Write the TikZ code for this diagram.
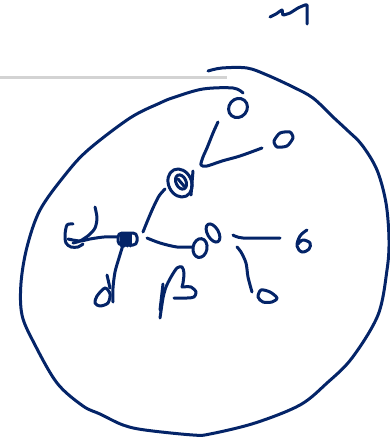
\documentclass[tikz,border=0pt]{standalone}
\usepackage{xcolor}
\usepackage{tikz}
\definecolor{inkblue}{RGB}{4,36,104}
\definecolor{rulegray}{RGB}{211,211,211}
\tikzset{
  ink/.style={inkblue,line width=3pt,line cap=round,line join=round},
}

\begin{document}
\begin{tikzpicture}[x=1pt,y=-1pt]
    \useasboundingbox (0,0) rectangle (390,439);
    % Gray rule
    \draw[rulegray,line width=3.5pt] (0,77.5) -- (227,77.5);
    % Scribble top right
    \draw[ink] plot[smooth,tension=0.3] coordinates {(270,17) (276,14) (282,10) (283,15) (290,13) (298,8) (305,5) (307,5)} -- (307,24);
    % Outer circle
    \draw[ink] plot[smooth,tension=0.55] coordinates {
        (208,71) (222,68) (247,68) (267,75) (293,87) (313,98) (333,117) (347,130)
        (362,145) (377,170) (386,203) (389,240) (387,270) (378,315) (352,358)
        (327,383) (300,405) (255,423) (210,434) (193,435) (145,430) (123,425)
        (100,414) (83,406) (57,383) (34,343) (22,315) (21,283) (27,247) (40,210)
        (65,175) (88,150) (130,118) (160,103) (175,97) (203,89) (233,88) (243,93)};
    % Hubs
    \coordinate (hash) at (127,239);
    \coordinate (spiral) at (180,183);
    \coordinate (spiralin) at (181,182);
    \coordinate (eightlo) at (200,248);
    \coordinate (eighthi) at (213,233);
    % Top O and small o
    \draw[ink,rotate around={50:(238,108)}] (238,108) ellipse (10 and 9);
    \draw[ink] plot[smooth cycle,tension=0.4] coordinates {(280,133) (290,132) (293,138) (287,146) (277,147) (274,141)};
    % Branch to top O and small o
    \draw[ink] plot[smooth,tension=0.5] coordinates {(218,122) (213,133) (207,148) (203,157) (201,165) (207,166) (222,161) (240,156) (262,148)};
    % Spiral blob
    \draw[ink,rotate around={25:(spiral)}] (spiral) ellipse (11.5 and 14.5);
    \draw[ink,rotate around={25:(spiralin)}] (spiralin) ellipse (5 and 7.5);
    \draw[ink] (178,179) -- (184,186);
    \draw[ink] (193,171) -- (191,195);
    \draw[ink] plot[smooth] coordinates {(165,189) (159,196) (153,208) (147,222) (143,232)};
    % Hash blob
    \draw[ink,rounded corners=4pt] (118,233) rectangle (137,245);
    \foreach \hx in {121,124,127,130} {
        \draw[ink] (\hx,234) -- (\hx,246);
    }
    % C and hook on the left
    \draw[ink] plot[smooth,tension=0.5] coordinates {(73,224) (67,225) (65,235) (66,243) (71,247) (78,247) (83,244)};
    \draw[ink] plot[smooth,tension=0.5] coordinates {(95,207) (97,218) (95,228) (89,235) (80,241) (73,243)};
    \draw[ink] plot[smooth,tension=0.5] coordinates {(68,239) (80,241) (90,239) (104,237) (118,237)};
    % d below the hash blob
    \draw[ink] plot[smooth,tension=0.5] coordinates {(123,245) (119,258) (115,272) (113,288) (113,302)};
    \draw[ink] plot[smooth cycle,tension=0.5] coordinates {(105,288) (97,296) (95,303) (100,306) (108,303) (110,294)};
    \draw[ink] (107,275) -- (110,288);
    % Line to the 8 blob
    \draw[ink] plot[smooth,tension=0.5] coordinates {(147,238) (160,243) (177,247) (193,247)};
    \draw[ink,rotate around={-10:(eightlo)}] (eightlo) ellipse (7 and 9.5);
    \draw[ink,rotate around={30:(eighthi)}] (eighthi) ellipse (5.5 and 10);
    % Right branch and 6
    \draw[ink] plot[smooth,tension=0.5] coordinates {(233,235) (243,238) (280,238)};
    \draw[ink] plot[smooth,tension=0.6] coordinates {(307,230) (300,236) (297,246) (302,252) (309,249) (310,243) (303,240) (298,244)};
    % Down branch and a
    \draw[ink] plot[smooth,tension=0.5] coordinates {(237,247) (241,252) (246,263) (248,277) (252,292)};
    \draw[ink] plot[smooth cycle,tension=0.5] coordinates {(261,290) (258,297) (263,302) (272,302) (277,298) (270,292)};
    % Beta
    \draw[ink] plot[smooth,tension=0.5] coordinates {(160,318) (163,298) (166,287) (171,277) (177,268) (182,267) (184,273) (183,283) (182,287)};
    \draw[ink] plot[smooth,tension=0.5] coordinates {(182,287) (191,287) (196,292) (194,297) (187,298) (174,298)};
    \draw[ink] (163,284) -- (160,310);
\end{tikzpicture}
\end{document}
